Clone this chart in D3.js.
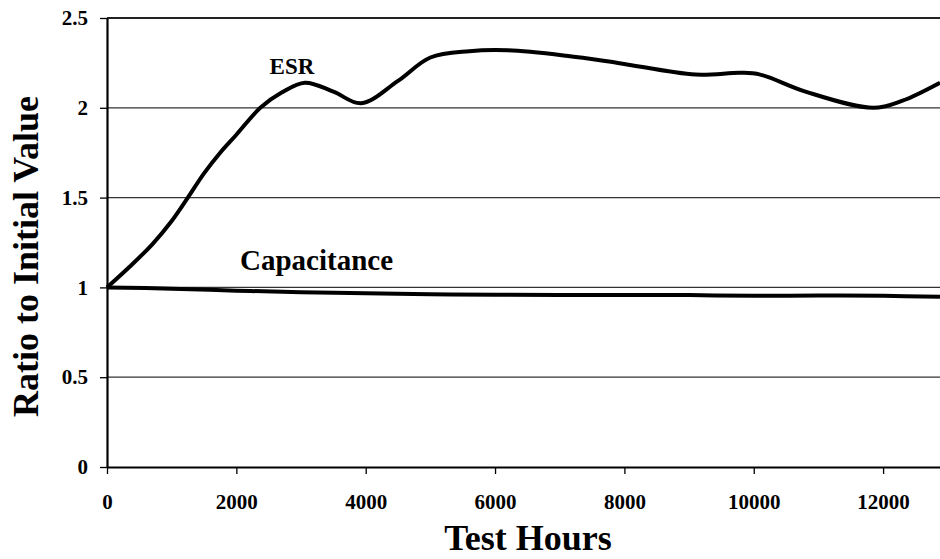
<!DOCTYPE html>
<html>
<head>
<meta charset="utf-8">
<script src="https://cdn.jsdelivr.net/npm/d3@7"></script>
<style>
  body { margin: 0; background: #fff; }
  svg text { font-family: "Liberation Serif", "Times New Roman", serif !important; font-weight: bold; fill: #000; }
</style>
</head>
<body>
<script>
// hours on test
var esrHours = [0, 350, 700, 1000, 1250, 1500, 1750, 2000, 2370, 2700, 3060, 3500, 3930, 4500, 5000, 5600, 6200, 7100, 7900, 9100, 9800, 10100, 10800, 11850, 12300, 12880]
var esrRatio = [1.0, 1.115, 1.24, 1.37, 1.5, 1.635, 1.75, 1.85, 2.0, 2.085, 2.14, 2.09, 2.025, 2.15, 2.28, 2.315, 2.32, 2.29, 2.25, 2.185, 2.195, 2.185, 2.09, 2.0, 2.04, 2.14]

var capHours = [0, 1000, 2000, 3000, 4000, 5000, 6000, 8000, 9000, 10000, 11000, 12000, 12880]
var capRatio = [1.0, 0.993, 0.982, 0.973, 0.968, 0.962, 0.959, 0.957, 0.957, 0.953, 0.955, 0.953, 0.948]

var xTicks = [0, 2000, 4000, 6000, 8000, 10000, 12000]
var yTicks = [0, 0.5, 1, 1.5, 2, 2.5]

var labels = [
  {name: "ESR", hour: 2860, ratio: 2.19, size: 23},
  {name: "Capacitance", hour: 3240, ratio: 1.096, size: 29}
]

var margin = {top: 18, right: 0, bottom: 92, left: 107}
  , width = 940 - margin.left - margin.right
  , height = 559 - margin.top - margin.bottom;

var serif = "'Liberation Serif', 'Times New Roman', serif";

var svg = d3.select("body")
  .append("svg")
    .attr("width", 940)
    .attr("height", 559)
  .append("g")
    .attr("transform", "translate(" + margin.left + "," + margin.top + ")");

var xScale = d3.scaleLinear()
    .domain([0, 12880])
    .range([0, width]);

var yScale = d3.scaleLinear()
    .domain([0, 2.5])
    .range([height, 0]);

// gridlines
svg.selectAll(".grid")
  .data(yTicks.filter(function(d) { return d > 0 && d < 2.5 }))
  .enter()
  .append("line")
    .attr("x1", 0)
    .attr("x2", width)
    .attr("y1", function(d) { return yScale(d) })
    .attr("y2", function(d) { return yScale(d) })
    .style("stroke", "#333")
    .style("stroke-width", 1.3);

// top frame line
svg.append("line")
    .attr("x1", 0).attr("x2", width)
    .attr("y1", yScale(2.5)).attr("y2", yScale(2.5))
    .style("stroke", "#222")
    .style("stroke-width", 2);

// axes
var xAxis = svg.append("g")
    .attr("transform", "translate(0," + height + ")")
    .call(d3.axisBottom(xScale).tickValues(xTicks).tickSize(7).tickPadding(16).tickSizeOuter(0)
      .tickFormat(d3.format("d")));

var yAxis = svg.append("g")
    .call(d3.axisLeft(yScale).tickValues(yTicks).tickSize(7).tickPadding(12).tickSizeOuter(0)
      .tickFormat(function(d) { return d }));

[xAxis, yAxis].forEach(function(ax) {
  ax.attr("font-family", serif).attr("font-size", 21);
  ax.select(".domain").style("stroke", "#000").style("stroke-width", 2.2);
  ax.selectAll(".tick line").style("stroke", "#000").style("stroke-width", 1.3);
  ax.selectAll(".tick text")
    .attr("font-family", serif)
    .style("font-weight", "bold")
    .style("font-size", "21px");
});
xAxis.selectAll(".tick text").attr("dy", "0.9em");

var line = d3.line()
    .x(function(d) { return xScale(d[0]) })
    .y(function(d) { return yScale(d[1]) })
    .curve(d3.curveCatmullRom.alpha(0.5));

var esr = esrHours.map(function(h, i) { return [h, esrRatio[i]] });
var cap = capHours.map(function(h, i) { return [h, capRatio[i]] });

[cap, esr].forEach(function(series) {
  svg.append("path")
      .datum(series)
      .attr("d", line)
      .style("fill", "none")
      .style("stroke", "#000")
      .style("stroke-width", 4)
      .style("stroke-linejoin", "round");
});

// curve labels
svg.selectAll(".curve-label")
  .data(labels)
  .enter()
  .append("text")
    .attr("x", function(d) { return xScale(d.hour) })
    .attr("y", function(d) { return yScale(d.ratio) })
    .attr("text-anchor", "middle")
    .attr("font-family", serif)
    .style("font-size", function(d) { return d.size + "px" })
    .text(function(d) { return d.name });

// axis titles
svg.append("text")
    .attr("text-anchor", "middle")
    .attr("transform", "translate(" + (-margin.left + 38) + "," + (height / 2 + 14) + ")rotate(-90)")
    .attr("font-family", serif)
    .style("font-size", "36px")
    .text("Ratio to Initial Value");

svg.append("text")
    .attr("text-anchor", "middle")
    .attr("x", 528 - margin.left)
    .attr("y", height + 83)
    .attr("font-family", serif)
    .style("font-size", "36px")
    .text("Test Hours");
</script>
</body>
</html>
